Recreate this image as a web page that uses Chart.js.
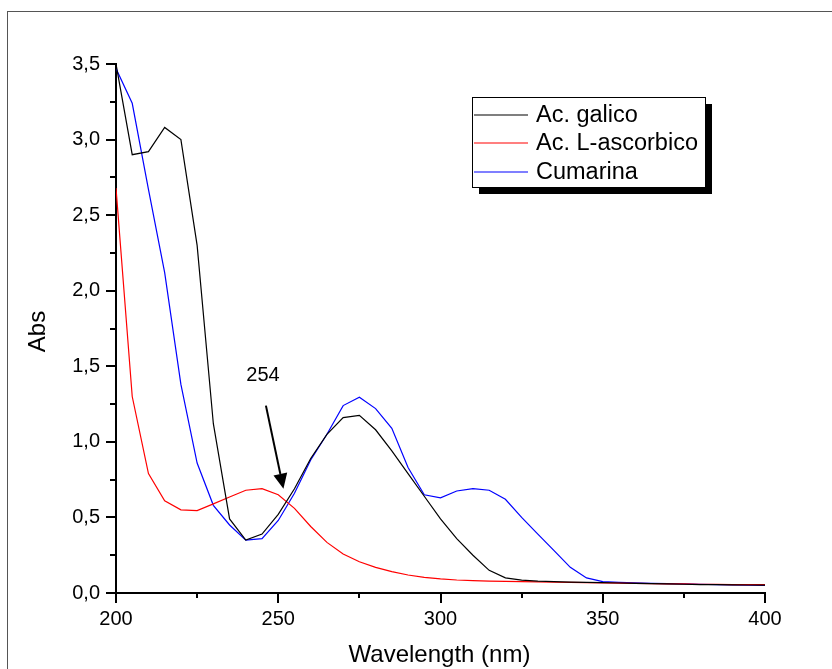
<!DOCTYPE html>
<html>
<head>
<meta charset="utf-8">
<script src="https://cdn.jsdelivr.net/npm/chart.js@4/dist/chart.umd.min.js"></script>
<style>
  html, body { margin: 0; padding: 0; background: #fff; }
  #wrap { width: 832px; height: 669px; }
</style>
</head>
<body>
<div id="wrap"><canvas id="spectra"></canvas></div>
<script>
// Wavelength (nm), every 5 nm
const wavelengths = [
  200, 205, 210, 215, 220, 225, 230, 235, 240, 245,
  250, 255, 260, 265, 270, 275, 280, 285, 290, 295,
  300, 305, 310, 315, 320, 325, 330, 335, 340, 345,
  350, 355, 360, 365, 370, 375, 380, 385, 390, 395, 400,
];

const galico = [
  3.50, 2.90, 2.92, 3.08, 3.00, 2.30, 1.12, 0.49, 0.35, 0.39,
  0.52, 0.69, 0.89, 1.05, 1.16, 1.175, 1.08, 0.94, 0.79, 0.64,
  0.49, 0.36, 0.25, 0.15, 0.10, 0.085, 0.078, 0.075, 0.072, 0.07,
  0.068, 0.066, 0.064, 0.062, 0.06, 0.058, 0.056, 0.055, 0.054, 0.053, 0.052,
];

const ascorbico = [
  2.68, 1.30, 0.79, 0.61, 0.55, 0.545, 0.59, 0.635, 0.68, 0.69,
  0.65, 0.56, 0.44, 0.335, 0.258, 0.207, 0.17, 0.141, 0.119, 0.104,
  0.093, 0.086, 0.082, 0.079, 0.077, 0.075, 0.073, 0.071, 0.07, 0.068,
  0.067, 0.065, 0.064, 0.062, 0.061, 0.06, 0.058, 0.057, 0.056, 0.055, 0.055,
];

const cumarina = [
  3.47, 3.24, 2.67, 2.12, 1.38, 0.86, 0.58, 0.45, 0.35, 0.36,
  0.48, 0.66, 0.88, 1.05, 1.24, 1.295, 1.22, 1.09, 0.83, 0.65,
  0.63, 0.675, 0.69, 0.68, 0.62, 0.50, 0.39, 0.28, 0.17, 0.10,
  0.075, 0.07, 0.067, 0.064, 0.062, 0.06, 0.058, 0.056, 0.054, 0.052, 0.05,
];

const seriesNames = ["Ac. galico", "Ac. L-ascorbico", "Cumarina"];
const seriesColors = ["#000000", "#ff0000", "#0000ff"];

// arrow pointing at 254 nm (data coords)
const arrowLabel = "254";
const arrowText = { x: 245.3, y: 1.44 };
const arrowFrom = { x: 246.2, y: 1.24 };
const arrowTo = { x: 251.6, y: 0.69 };

const FONT = "'Liberation Sans', Arial, Helvetica, sans-serif";
Chart.defaults.font.family = FONT;
Chart.defaults.color = "#000";

const toPoints = (ys) => wavelengths.map((x, i) => ({ x: x, y: ys[i] }));

const decorPlugin = {
  id: "decor",
  afterDraw(chart) {
    const ctx = chart.ctx;
    const xs = chart.scales.x;
    const ys = chart.scales.y;
    const area = chart.chartArea;
    ctx.save();

    // outer frame (only top/left visible)
    ctx.strokeStyle = "#555";
    ctx.lineWidth = 1;
    ctx.strokeRect(7.5, 11.5, 900, 900);

    // tick marks, major longer than minor
    ctx.strokeStyle = "#000";
    ctx.lineWidth = 2;
    xs.ticks.forEach((t) => {
      const px = Math.round(xs.getPixelForValue(t.value));
      const len = t.value % 50 === 0 ? 10 : 5;
      ctx.beginPath();
      ctx.moveTo(px, area.bottom);
      ctx.lineTo(px, area.bottom + len);
      ctx.stroke();
    });
    ys.ticks.forEach((t) => {
      const py = Math.round(ys.getPixelForValue(t.value));
      const len = Math.abs((t.value * 2) % 1) < 1e-6 ? 10 : 6;
      ctx.beginPath();
      ctx.moveTo(area.left, py);
      ctx.lineTo(area.left - len, py);
      ctx.stroke();
    });

    // axis titles
    ctx.fillStyle = "#000";
    ctx.font = "24px " + FONT;
    ctx.textAlign = "center";
    ctx.textBaseline = "middle";
    ctx.fillText("Wavelength (nm)", (area.left + area.right) / 2 - 1, 655);
    ctx.save();
    ctx.translate(38, (area.top + area.bottom) / 2 + 3);
    ctx.rotate(-Math.PI / 2);
    ctx.fillText("Abs", 0, 0);
    ctx.restore();

    // annotation arrow
    const tx = xs.getPixelForValue(arrowText.x);
    const ty = ys.getPixelForValue(arrowText.y);
    ctx.font = "20px " + FONT;
    ctx.fillText(arrowLabel, tx, ty);
    const x0 = xs.getPixelForValue(arrowFrom.x);
    const y0 = ys.getPixelForValue(arrowFrom.y);
    const x1 = xs.getPixelForValue(arrowTo.x);
    const y1 = ys.getPixelForValue(arrowTo.y);
    const ang = Math.atan2(y1 - y0, x1 - x0);
    const headLen = 15, headHalf = 7;
    const bx = x1 - headLen * Math.cos(ang);
    const by = y1 - headLen * Math.sin(ang);
    ctx.lineWidth = 2;
    ctx.beginPath();
    ctx.moveTo(x0, y0);
    ctx.lineTo(bx, by);
    ctx.stroke();
    ctx.beginPath();
    ctx.moveTo(x1, y1);
    ctx.lineTo(bx + headHalf * Math.sin(ang), by - headHalf * Math.cos(ang));
    ctx.lineTo(bx - headHalf * Math.sin(ang), by + headHalf * Math.cos(ang));
    ctx.closePath();
    ctx.fill();

    // legend box with drop shadow
    const lx = 472, ly = 97, lw = 233, lh = 90;
    ctx.fillStyle = "#000";
    ctx.fillRect(lx + 7, ly + 7, lw, lh);
    ctx.fillStyle = "#fff";
    ctx.fillRect(lx, ly, lw, lh);
    ctx.strokeStyle = "#000";
    ctx.lineWidth = 1;
    ctx.strokeRect(lx + 0.5, ly + 0.5, lw, lh);
    ctx.font = "23.5px " + FONT;
    ctx.textAlign = "left";
    ctx.textBaseline = "middle";
    const rows = [115, 143, 172];
    chart.data.datasets.forEach((ds, i) => {
      ctx.strokeStyle = ds.borderColor;
      ctx.lineWidth = 1.2;
      ctx.beginPath();
      ctx.moveTo(474, rows[i]);
      ctx.lineTo(528, rows[i]);
      ctx.stroke();
      ctx.fillStyle = "#000";
      ctx.fillText(ds.label, 536, rows[i] + 1);
    });

    ctx.restore();
  },
};

new Chart(document.getElementById("spectra"), {
  type: "line",
  data: {
    datasets: [galico, ascorbico, cumarina].map((ys, i) => ({
      label: seriesNames[i],
      data: toPoints(ys),
      borderColor: seriesColors[i],
      borderWidth: 1.2,
      pointRadius: 0,
      tension: 0,
      fill: false,
    })),
  },
  options: {
    responsive: true,
    maintainAspectRatio: false,
    animation: false,
    layout: {
      padding: { left: 0, top: 64, right: 67, bottom: 0 },
    },
    plugins: {
      legend: { display: false },
      tooltip: { enabled: false },
    },
    scales: {
      x: {
        type: "linear",
        min: 200,
        max: 400,
        afterFit: (s) => { s.height = 76; },
        border: { display: true, color: "#000", width: 2 },
        grid: { display: true, drawOnChartArea: false, drawTicks: false },
        ticks: {
          stepSize: 25,
          padding: 14,
          maxRotation: 0,
          autoSkip: false,
          font: { size: 20 },
          callback: (v) => (v % 50 === 0 ? String(v) : ""),
        },
      },
      y: {
        min: 0,
        max: 3.5,
        afterFit: (s) => { s.width = 116; },
        border: { display: true, color: "#000", width: 2 },
        grid: { display: true, drawOnChartArea: false, drawTicks: false },
        ticks: {
          stepSize: 0.25,
          padding: 16,
          autoSkip: false,
          font: { size: 20 },
          callback: (v) =>
            Math.abs((v * 2) % 1) < 1e-6 ? v.toFixed(1).replace(".", ",") : "",
        },
      },
    },
  },
  plugins: [decorPlugin],
});
</script>
</body>
</html>
